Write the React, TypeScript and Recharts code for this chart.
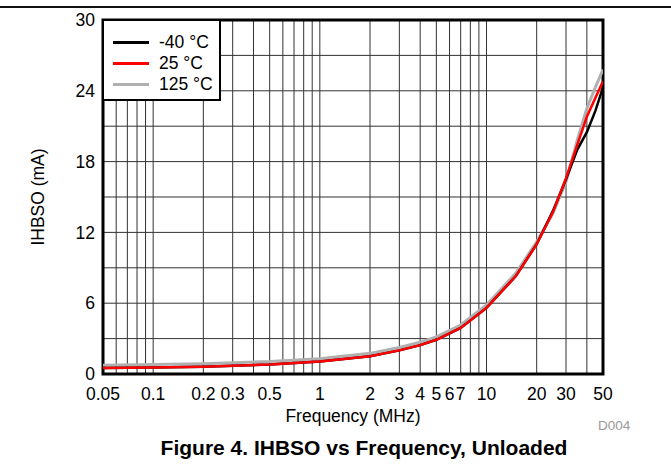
import { LineChart, Line, XAxis, YAxis, CartesianGrid, ReferenceArea } from 'recharts';

const freqMHz = [0.05, 0.1, 0.2, 0.5, 1, 2, 3, 4, 5, 7, 10, 15, 20, 25, 30, 35, 40, 45, 50];
const ihbsoMinus40 = [0.5, 0.55, 0.62, 0.8, 1.05, 1.5, 2.0, 2.45, 2.9, 3.9, 5.6, 8.3, 11.0, 13.8, 16.5, 19.0, 20.5, 22.3, 24.3];
const ihbso25 = [0.5, 0.55, 0.62, 0.8, 1.05, 1.5, 2.0, 2.45, 2.9, 3.9, 5.6, 8.3, 11.0, 13.7, 16.6, 19.4, 21.8, 23.4, 24.8];
const ihbso125 = [0.75, 0.8, 0.87, 1.05, 1.3, 1.75, 2.25, 2.7, 3.15, 4.15, 5.85, 8.55, 11.2, 13.6, 16.3, 19.8, 22.5, 24.3, 25.8];

const xTicks = [0.05, 0.1, 0.2, 0.3, 0.5, 1, 2, 3, 4, 5, 6, 7, 10, 20, 30, 50];
const yTicks = [0, 6, 12, 18, 24, 30];
const xGrid = [
  0.05, 0.06, 0.07, 0.08, 0.09, 0.1, 0.2, 0.3, 0.4, 0.5, 0.6, 0.7, 0.8, 0.9,
  1, 2, 3, 4, 5, 6, 7, 8, 9, 10, 20, 30, 40, 50,
];
const yGrid = [3, 6, 9, 12, 15, 18, 21, 24, 27];

const series = [
  { key: 'm40', name: '-40 °C', color: '#000000' },
  { key: 't25', name: '25 °C', color: '#ff0000' },
  { key: 't125', name: '125 °C', color: '#b0b0b0' },
];

const data = freqMHz.map((f, i) => ({
  f,
  m40: ihbsoMinus40[i],
  t25: ihbso25[i],
  t125: ihbso125[i],
}));

const font = '"Liberation Sans", Arial, sans-serif';

function LegendBox() {
  return (
    <div
      style={{
        position: 'absolute',
        left: 102,
        top: 19,
        width: 119,
        height: 82,
        background: '#fff',
        border: '2px solid #000',
        boxSizing: 'border-box',
        paddingTop: 11,
        paddingLeft: 9,
        fontFamily: font,
        fontSize: 17.5,
        color: '#000',
      }}
    >
      {series.map((s) => (
        <div key={s.key} style={{ display: 'flex', alignItems: 'center', height: 21 }}>
          <div style={{ width: 36, height: 3, background: s.color, marginRight: 10 }} />
          <span>{s.name}</span>
        </div>
      ))}
    </div>
  );
}

export default function App() {
  return (
    <div style={{ position: 'absolute', left: 0, top: 0, width: 671, height: 465, background: '#fff', fontFamily: font }}>
      <div style={{ position: 'absolute', left: 0, top: 6, width: 671, height: 2, background: '#111' }} />
      <LineChart width={671} height={465} data={data} margin={{ top: 20, right: 68, left: 63, bottom: 61 }}>
        <CartesianGrid
          stroke="#333"
          strokeWidth={1}
          horizontalValues={yGrid}
          verticalValues={xGrid}
        />
        <XAxis
          dataKey="f"
          type="number"
          scale="log"
          domain={[0.05, 50]}
          ticks={xTicks}
          interval={0}
          allowDataOverflow
          axisLine={false}
          tickLine={false}
          tickMargin={8}
          height={30}
          tick={{ fontSize: 17.5, fill: '#000', fontFamily: font }}
        />
        <YAxis
          type="number"
          domain={[0, 30]}
          ticks={yTicks}
          interval={0}
          axisLine={false}
          tickLine={false}
          width={40}
          tick={{ fontSize: 17.5, fill: '#000', fontFamily: font }}
        />
        <Line type="linear" dataKey="t125" stroke="#b0b0b0" strokeWidth={3} dot={false} isAnimationActive={false} />
        <Line type="linear" dataKey="m40" stroke="#000000" strokeWidth={2.5} dot={false} isAnimationActive={false} />
        <Line type="linear" dataKey="t25" stroke="#ff0000" strokeWidth={2.5} dot={false} isAnimationActive={false} />
        <ReferenceArea x1={0.05} x2={50} y1={0} y2={30} fill="none" stroke="#000" strokeWidth={3} ifOverflow="visible" />
      </LineChart>
      <LegendBox />
      <div style={{ position: 'absolute', left: 38, top: 197, width: 0, height: 0 }}>
        <div
          style={{
            position: 'absolute',
            transform: 'translate(-50%, -50%) rotate(-90deg)',
            whiteSpace: 'nowrap',
            fontSize: 17.5,
            left: 0,
            top: 0,
          }}
        >
          IHBSO (mA)
        </div>
      </div>
      <div style={{ position: 'absolute', left: 253, width: 200, top: 406, textAlign: 'center', fontSize: 17.5 }}>
        Frequency (MHz)
      </div>
      <div style={{ position: 'absolute', left: 598, top: 418, fontSize: 13.5, color: '#999' }}>D004</div>
      <div
        style={{
          position: 'absolute',
          left: 0,
          width: 728,
          top: 436,
          textAlign: 'center',
          fontSize: 21,
          fontWeight: 'bold',
        }}
      >
        Figure 4. IHBSO vs Frequency, Unloaded
      </div>
    </div>
  );
}
